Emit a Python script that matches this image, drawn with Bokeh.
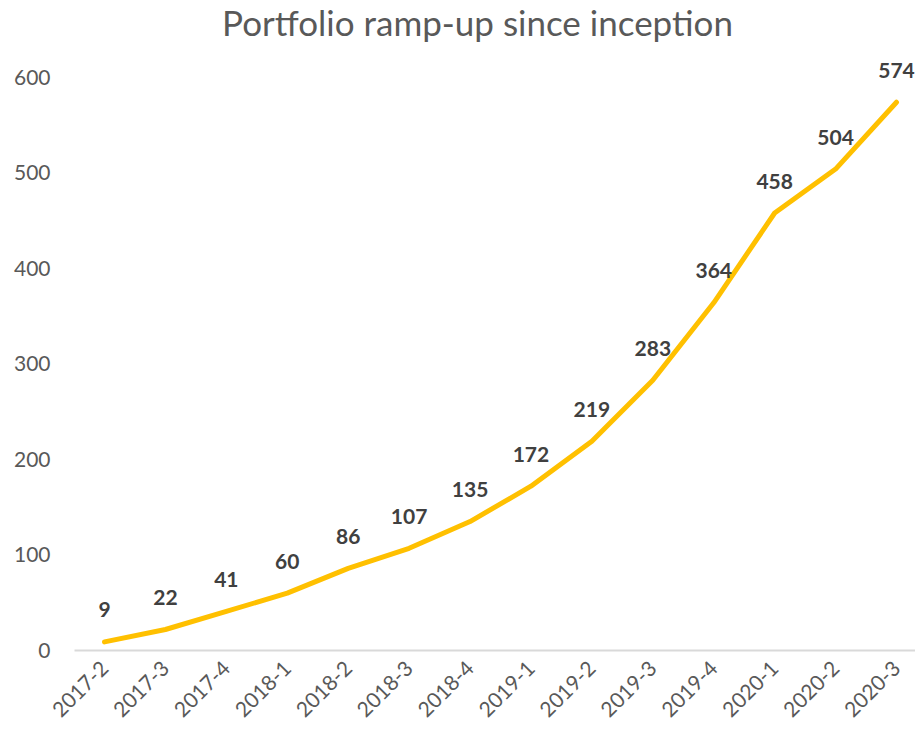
import math
from bokeh.plotting import figure
from bokeh.models import ColumnDataSource, Range1d, FixedTicker, Label
from bokeh.core.properties import value
from bokeh.embed import file_html
from bokeh.resources import INLINE

quarters = ["2017-2", "2017-3", "2017-4", "2018-1", "2018-2", "2018-3", "2018-4",
            "2019-1", "2019-2", "2019-3", "2019-4", "2020-1", "2020-2", "2020-3"]
portfolio = [9, 22, 41, 60, 86, 107, 135, 172, 219, 283, 364, 458, 504, 574]
y_ticks = [0, 100, 200, 300, 400, 500, 600]
title_text = "Portfolio ramp-up since inception"

idx = list(range(len(quarters)))
src = ColumnDataSource(dict(x=idx, y=portfolio, lab=[str(v) for v in portfolio]))

FONT = "Lato"

p = figure(width=915, height=726, output_backend="svg", toolbar_location=None,
           x_range=Range1d(-0.4925, 13.312), y_range=Range1d(0, 680.5),
           min_border_left=74, min_border_right=0, min_border_top=0, min_border_bottom=75)
p.outline_line_color = None
p.xgrid.grid_line_color = None
p.ygrid.grid_line_color = None
p.background_fill_color = "white"
p.border_fill_color = "white"

# chart title, placed in screen units relative to the plot frame
p.add_layout(Label(x=403, y=629, x_units="screen", y_units="screen", text=title_text,
                   text_font=FONT, text_font_size="35px", text_color="#595959",
                   text_align="center", text_baseline="middle"))

p.line("x", "y", source=src, line_color="#FFC000", line_width=5, line_cap="round", line_join="round")
p.text("x", "y", text="lab", source=src, text_font=value(FONT), text_font_style="bold",
       text_font_size="21px", text_color="#404040", text_align="center",
       text_baseline="middle", y_offset=-32)

p.yaxis.ticker = FixedTicker(ticks=y_ticks)
p.yaxis.axis_line_color = None
p.yaxis.major_tick_line_color = None
p.yaxis.minor_tick_line_color = None
p.yaxis.major_tick_out = 0
p.yaxis.major_label_standoff = 24
p.yaxis.major_label_text_font = FONT
p.yaxis.major_label_text_font_size = "21px"
p.yaxis.major_label_text_color = "#595959"

p.xaxis.ticker = FixedTicker(ticks=idx)
p.xaxis.major_label_overrides = {i: q for i, q in zip(idx, quarters)}
p.xaxis.axis_line_color = "#D9D9D9"
p.xaxis.axis_line_width = 2
p.xaxis.major_tick_line_color = None
p.xaxis.minor_tick_line_color = None
p.xaxis.major_tick_out = 0
p.xaxis.major_label_standoff = 14
p.xaxis.major_label_orientation = math.pi / 4
p.xaxis.major_label_text_font = FONT
p.xaxis.major_label_text_font_size = "21px"
p.xaxis.major_label_text_color = "#595959"

open("out.html", "w").write(file_html(p, INLINE))
